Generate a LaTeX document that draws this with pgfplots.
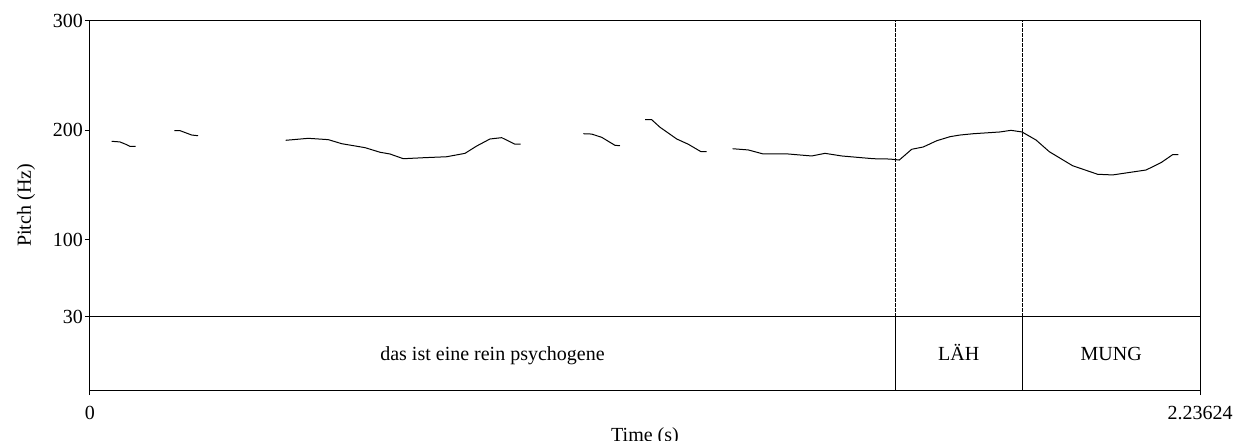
\documentclass[border=0pt]{standalone}
\usepackage{fontspec}
\setmainfont{Liberation Serif}
\usepackage{pgfplots}
\pgfplotsset{compat=1.18}

\begin{document}
\begin{tikzpicture}
\begin{axis}[
    scale only axis,
    width=555pt, height=184.65pt,
    xmin=0, xmax=2.23624,
    ymin=-36.9, ymax=300,
    xtick={0,2.23624}, xticklabels={0,2.23624},
    ytick={30,100,200,300},
    xtick pos=left, ytick pos=left,
    tick align=outside,
    major tick length=2.5pt,
    tick style={black, line width=0.5pt},
    axis line style={line width=0.5pt},
    xticklabel style={yshift=-2pt},
    yticklabel style={xshift=2.5pt},
    xlabel={Time (s)},
    xlabel style={yshift=3pt},
    ylabel={Pitch (Hz)},
    ylabel shift=2pt,
    /pgf/number format/assume math mode=true,
    font=\fontsize{10pt}{12pt}\selectfont,
    clip=false,
    pitch/.style={black, line width=0.5pt, no marks, solid},
]
\addplot[pitch] coordinates {(0.0437,190.0) (0.0604,189.4) (0.0739,186.9) (0.0806,185.4) (0.0921,185.4)};
\addplot[pitch] coordinates {(0.1698,199.7) (0.1813,199.7) (0.2049,195.7) (0.2176,195.1)};
\addplot[pitch] coordinates {
    (0.3943,190.9) (0.4096,191.5) (0.4398,192.7) (0.4801,191.5) (0.5071,187.8)
    (0.5540,184.2) (0.5842,180.0) (0.6044,178.4) (0.6312,174.1) (0.6715,175.0)
    (0.7186,175.9) (0.7555,179.0) (0.7791,185.7) (0.8058,192.1) (0.8294,193.3)
    (0.8562,187.3) (0.8677,187.3)};
\addplot[pitch] coordinates {(0.9938,196.9) (1.0107,196.6) (1.0309,193.6) (1.0577,186.3) (1.0677,186.0)};
\addplot[pitch] coordinates {
    (1.1181,209.7) (1.1316,209.7) (1.1483,202.8) (1.1685,196.4) (1.1820,192.1)
    (1.2053,187.3) (1.2309,180.5) (1.2424,180.5)};
\addplot[pitch] coordinates {
    (1.2948,183.2) (1.3262,182.1) (1.3565,178.4) (1.4068,178.4) (1.4540,176.6)
    (1.4808,179.0) (1.5144,176.6) (1.5781,174.1) (1.6117,173.8) (1.6304,172.9)
    (1.6554,182.7) (1.6787,184.8) (1.7058,190.5) (1.7326,194.2) (1.7527,195.7)
    (1.7795,196.9) (1.8333,198.5) (1.8554,200.0) (1.8776,198.5) (1.9058,191.2)
    (1.9326,180.5) (1.9796,167.7) (2.0300,159.9) (2.0602,159.3) (2.1275,163.8)
    (2.1577,170.5) (2.1811,177.8) (2.1926,177.8)};

% text tier
\draw[line width=0.5pt] (axis cs:0,30) -- (axis cs:2.23624,30);
\draw[line width=0.5pt] (axis cs:1.6218,-36.9) -- (axis cs:1.6218,30);
\draw[line width=0.5pt] (axis cs:1.8782,-36.9) -- (axis cs:1.8782,30);
\draw[line width=0.4pt, dash pattern=on 1.6pt off 0.9pt] (axis cs:1.6218,30) -- (axis cs:1.6218,300);
\draw[line width=0.4pt, dash pattern=on 1.6pt off 0.9pt] (axis cs:1.8782,30) -- (axis cs:1.8782,300);
\node[anchor=base] at (axis cs:0.8109,-10) {das ist eine rein psychogene};
\node[anchor=base] at (axis cs:1.7500,-10) {LÄH};
\node[anchor=base] at (axis cs:2.0572,-10) {MUNG};
\end{axis}
\pgfresetboundingbox
\path[use as bounding box] (current axis.south west) ++(-45pt,-25pt) rectangle ++(617pt,220pt);
\end{tikzpicture}
\end{document}
